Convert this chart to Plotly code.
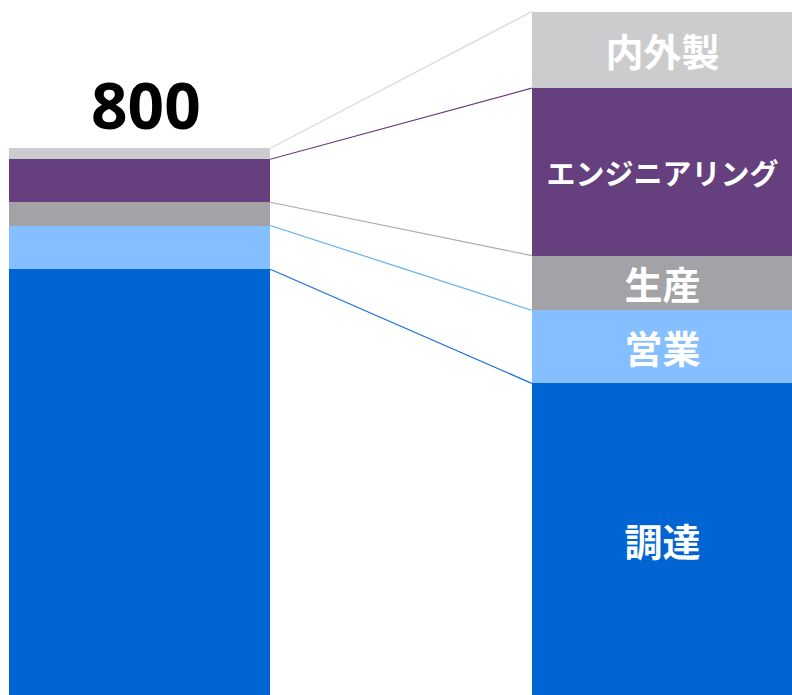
import plotly.graph_objects as go

# Cost breakdown: total (left) and expanded composition (right)
categories = ["調達", "営業", "生産", "エンジニアリング", "内外製"]
total_values = [623, 64, 34, 63, 16]
detail_values = [456, 107, 80, 245, 112]
colors = ["#0064D2", "#86BFFF", "#A3A2A6", "#663F7E", "#CCCCCE"]
line_colors = ["#1A6FE0", "#5FB0F2", "#ABABAB", "#663F7E", "#D8D8D8"]
label_sizes = [38, 38, 38, 29, 38]

bar_width = 0.5
fig = go.Figure()

for name, v_left, v_right, color, size in zip(
    categories, total_values, detail_values, colors, label_sizes
):
    fig.add_trace(
        go.Bar(
            x=[0, 1],
            y=[v_left, v_right],
            width=bar_width,
            name=name,
            marker=dict(color=color, line=dict(width=0)),
            text=["", name],
            textposition="inside",
            insidetextanchor="middle",
            textangle=0,
            constraintext="none",
            textfont=dict(
                family="Noto Sans CJK JP", size=size, color="white", weight="bold"
            ),
            hoverinfo="skip",
        )
    )

# Connector lines from the top of each segment in the total bar
# to the top of the matching segment in the detail bar
cum_left = 0
cum_right = 0
for v_left, v_right, lc in zip(total_values, detail_values, line_colors):
    cum_left += v_left
    cum_right += v_right
    fig.add_shape(
        type="line",
        xref="x",
        yref="y",
        x0=0 + bar_width / 2,
        y0=cum_left,
        x1=1 - bar_width / 2,
        y1=cum_right,
        line=dict(color=lc, width=1.2),
        layer="below",
    )

# Total label above the left bar
fig.add_annotation(
    x=0.013,
    y=sum(total_values),
    xref="x",
    yref="y",
    text=str(sum(total_values)),
    showarrow=False,
    yanchor="bottom",
    yshift=-2,
    font=dict(family="Noto Sans", size=64, color="black", weight="bold"),
)

fig.update_layout(
    barmode="stack",
    width=792,
    height=695,
    margin=dict(l=0, r=0, t=0, b=0),
    paper_bgcolor="white",
    plot_bgcolor="white",
    showlegend=False,
    xaxis=dict(range=[-0.2667, 1.2476], visible=False, fixedrange=True),
    yaxis=dict(range=[0, 1017], visible=False, fixedrange=True),
)

fig.write_html("out.html")
